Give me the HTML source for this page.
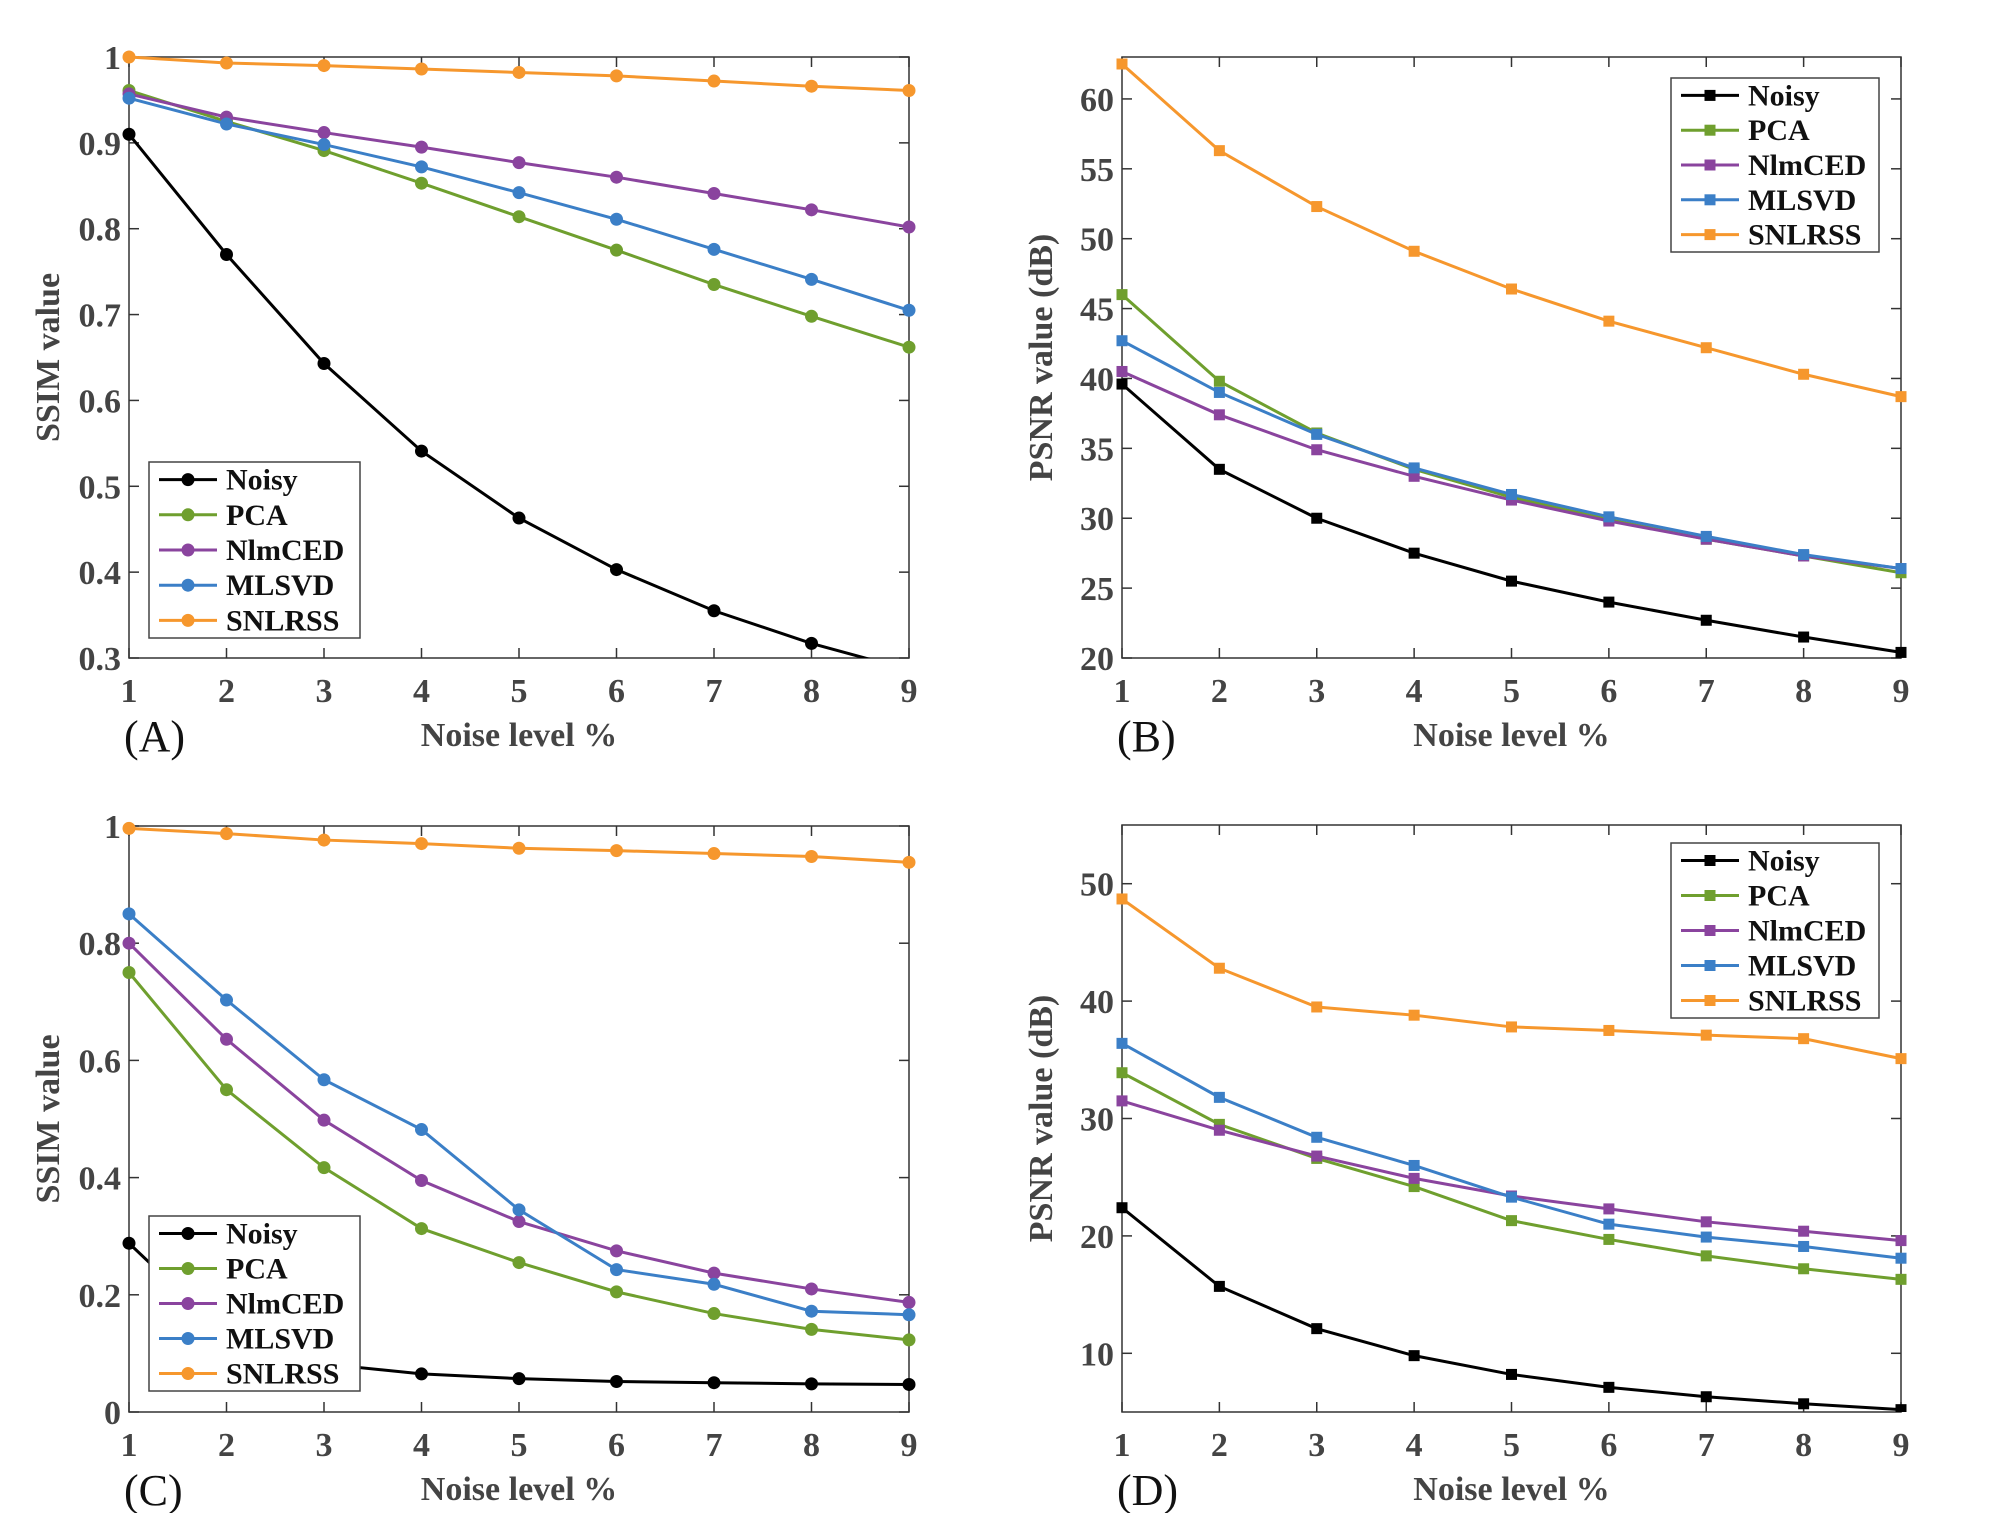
<!DOCTYPE html>
<html><head><meta charset="utf-8"><style>
html,body{margin:0;padding:0;background:#fff;}
svg{display:block;font-family:"Liberation Serif",serif;}
</style></head><body>
<svg id="chart" width="1994" height="1513" viewBox="0 0 1994 1513" xmlns="http://www.w3.org/2000/svg"></svg>
<script>
const xCategories = [1,2,3,4,5,6,7,8,9];
const seriesNames = ["Noisy","PCA","NlmCED","MLSVD","SNLRSS"];
const seriesColors = ["#000000","#6f9f2e","#8a449e","#3b7fc7","#f6972d"];
// Panel A (SSIM)
const aNoisy = [0.910,0.770,0.643,0.541,0.463,0.403,0.355,0.317,0.286];
const aPCA = [0.961,0.925,0.891,0.853,0.814,0.775,0.735,0.698,0.662];
const aNlm = [0.957,0.930,0.912,0.895,0.877,0.860,0.841,0.822,0.802];
const aMLSVD = [0.952,0.922,0.898,0.872,0.842,0.811,0.776,0.741,0.705];
const aSNL = [1.000,0.993,0.990,0.986,0.982,0.978,0.972,0.966,0.961];
const aTicks = ["0.3","0.4","0.5","0.6","0.7","0.8","0.9","1"];
// Panel B (PSNR)
const bNoisy = [39.6,33.5,30.0,27.5,25.5,24.0,22.7,21.5,20.4];
const bPCA = [46.0,39.8,36.1,33.5,31.5,29.9,28.5,27.3,26.1];
const bNlm = [40.5,37.4,34.9,33.0,31.3,29.8,28.5,27.3,26.4];
const bMLSVD = [42.7,39.0,36.0,33.6,31.7,30.1,28.7,27.4,26.4];
const bSNL = [62.5,56.3,52.3,49.1,46.4,44.1,42.2,40.3,38.7];
const bTicks = ["20","25","30","35","40","45","50","55","60"];
// Panel C (SSIM)
const cNoisy = [0.288,0.130,0.082,0.065,0.057,0.052,0.050,0.048,0.047];
const cPCA = [0.750,0.550,0.417,0.313,0.255,0.205,0.168,0.141,0.123];
const cNlm = [0.800,0.636,0.498,0.395,0.325,0.275,0.237,0.210,0.187];
const cMLSVD = [0.850,0.703,0.567,0.482,0.345,0.243,0.218,0.172,0.166];
const cSNL = [0.996,0.987,0.976,0.970,0.962,0.958,0.953,0.948,0.938];
const cTicks = ["0","0.2","0.4","0.6","0.8","1"];
// Panel D (PSNR)
const dNoisy = [22.4,15.7,12.1,9.8,8.2,7.1,6.3,5.7,5.2];
const dPCA = [33.9,29.5,26.6,24.2,21.3,19.7,18.3,17.2,16.3];
const dNlm = [31.5,29.0,26.8,24.9,23.4,22.3,21.2,20.4,19.6];
const dMLSVD = [36.4,31.8,28.4,26.0,23.3,21.0,19.9,19.1,18.1];
const dSNL = [48.7,42.8,39.5,38.8,37.8,37.5,37.1,36.8,35.1];
const dTicks = ["10","20","30","40","50"];

const NS="http://www.w3.org/2000/svg";
const svg=document.getElementById('chart');
function mk(tag,attrs,parent){const e=document.createElementNS(NS,tag);for(const k in attrs)e.setAttribute(k,attrs[k]);(parent||svg).appendChild(e);return e;}

function panel(id,box,ymin,ymax,ticks,series,marker,ylabel,letter,legendBox){
  const g=mk('g',{});
  
  
  const {x0,x1,y0,y1}=box;
  const sx=v=>x0+(v-1)/(8)*(x1-x0);
  const sy=v=>y1-(v-ymin)/(ymax-ymin)*(y1-y0);
  const clipId='clip'+id;
  const cp=mk('clipPath',{id:clipId},g);mk('rect',{x:x0-12,y:y0-12,width:x1-x0+24,height:y1-y0+12},cp);
  const frame=mk('rect',{x:x0,y:y0,width:x1-x0,height:y1-y0,fill:'none',stroke:'#333',"stroke-width":1.5},g);
  
  
  xCategories.forEach(c=>{
    const x=sx(c);
    mk('line',{x1:x,y1:y1,x2:x,y2:y1-10,stroke:'#333',"stroke-width":1.5},g);
    mk('line',{x1:x,y1:y0,x2:x,y2:y0+10,stroke:'#333',"stroke-width":1.5},g);
    const t=mk('text',{x:x,y:y1+44,"text-anchor":"middle","font-size":34,"font-weight":"bold",fill:'#444'},g);
    t.textContent=c;
    
    
  });
  ticks.forEach(s=>{
    const v=parseFloat(s);const y=sy(v);
    mk('line',{x1:x0,y1:y,x2:x0+10,y2:y,stroke:'#333',"stroke-width":1.5},g);
    mk('line',{x1:x1,y1:y,x2:x1-10,y2:y,stroke:'#333',"stroke-width":1.5},g);
    const t=mk('text',{x:x0-8,y:y+12,"text-anchor":"end","font-size":34,"font-weight":"bold",fill:'#444'},g);
    t.textContent=s;
    
    
  });
  const xl=mk('text',{x:(x0+x1)/2,y:y1+88,"text-anchor":"middle","font-size":34,"font-weight":"bold",fill:'#444'},g);
  xl.textContent='Noise level %';
  
  
  const yx=x0-70, yc=(y0+y1)/2;
  const yl=mk('text',{x:yx,y:yc,"text-anchor":"middle","font-size":34,"font-weight":"bold",fill:'#444',transform:`rotate(-90 ${yx} ${yc})`},g);
  yl.textContent=ylabel;
  
  
  const pl=mk('text',{x:x0-5,y:y1+93,"font-size":44,fill:'#111'},g);
  pl.textContent='('+letter+')';
  
  
  const sg=mk('g',{"clip-path":`url(#${clipId})`},g);
  series.forEach((vals,i)=>{
    const col=seriesColors[i];
    const pts=vals.map((v,j)=>sx(xCategories[j])+','+sy(v)).join(' ');
    const line=mk('polyline',{points:pts,fill:'none',stroke:col,"stroke-width":3},sg);
    
    
    vals.forEach((v,j)=>{
      const x=sx(xCategories[j]),y=sy(v);
      let m;
      if(marker==='o') m=mk('circle',{cx:x,cy:y,r:6.5,fill:col},sg);
      else m=mk('rect',{x:x-5.5,y:y-5.5,width:11,height:11,fill:col},sg);
      
      
    });
  });
  const lg=mk('g',{},g);
  
  
  const L=legendBox;
  mk('rect',{x:L.x,y:L.y,width:L.w,height:L.h,fill:'#fff',stroke:'#444',"stroke-width":1.5},lg);
  const step=L.h/5;
  seriesNames.forEach((n,i)=>{
    const cy=L.y+step*(i+0.5);
    const e=mk('g',{},lg);
    
    
    mk('line',{x1:L.x+10,y1:cy,x2:L.x+68,y2:cy,stroke:seriesColors[i],"stroke-width":3},e);
    if(marker==='o') mk('circle',{cx:L.x+39,cy:cy,r:6.5,fill:seriesColors[i]},e);
    else mk('rect',{x:L.x+33.5,y:cy-5.5,width:11,height:11,fill:seriesColors[i]},e);
    const t=mk('text',{x:L.x+77,y:cy+10,"font-size":30,"font-weight":"bold",fill:'#111'},e);
    t.textContent=n;
  });
}
const xL0=129,xL1=909,xR0=1122,xR1=1901;
panel('a',{x0:xL0,x1:xL1,y0:57,y1:658},0.3,1.0,aTicks,[aNoisy,aPCA,aNlm,aMLSVD,aSNL],'o','SSIM value','A',{x:149,y:462,w:211,h:176});
panel('b',{x0:xR0,x1:xR1,y0:57,y1:658},20,63,bTicks,[bNoisy,bPCA,bNlm,bMLSVD,bSNL],'s','PSNR value (dB)','B',{x:1671,y:78,w:208,h:174});
panel('c',{x0:xL0,x1:xL1,y0:826,y1:1412},0,1.0,cTicks,[cNoisy,cPCA,cNlm,cMLSVD,cSNL],'o','SSIM value','C',{x:149,y:1216,w:211,h:175});
panel('d',{x0:xR0,x1:xR1,y0:825,y1:1412},5,55,dTicks,[dNoisy,dPCA,dNlm,dMLSVD,dSNL],'s','PSNR value (dB)','D',{x:1671,y:843,w:208,h:175});
</script>
</body></html>
